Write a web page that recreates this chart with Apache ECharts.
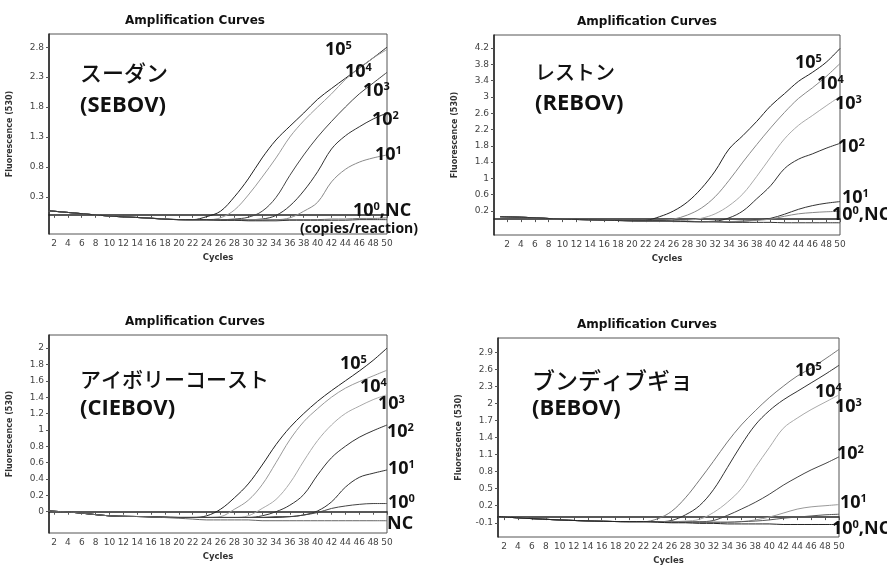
<!DOCTYPE html>
<html>
<head>
<meta charset="utf-8">
<script src="https://cdn.jsdelivr.net/npm/echarts@6/dist/echarts.min.js"></script>
<style>
  html, body { margin: 0; padding: 0; background: #fff; }
  #chart { width: 887px; height: 571px; }
</style>
</head>
<body>
<div id="chart"></div>
<script>
// shared cycle grid the curves were read at
const cycles = [1, 5, 10, 15, 20, 22, 24, 26, 28, 30, 32, 34, 36, 38, 40, 42, 44, 46, 48, 50]
const xTicks = [2, 4, 6, 8, 10, 12, 14, 16, 18, 20, 22, 24, 26, 28, 30, 32, 34, 36, 38, 40, 42, 44, 46, 48, 50]

// order: 10^5, 10^4, 10^3, 10^2, 10^1, 10^0, NC
const sebov = [
  [0.07, 0.03, -0.02, -0.05, -0.08, -0.08, -0.03, 0.06, 0.3, 0.6, 0.95, 1.25, 1.48, 1.7, 1.93, 2.11, 2.28, 2.45, 2.62, 2.8],
  [0.07, 0.03, -0.02, -0.05, -0.08, -0.08, -0.08, -0.05, 0.08, 0.33, 0.63, 0.95, 1.3, 1.57, 1.8, 2.02, 2.26, 2.45, 2.62, 2.76],
  [0.07, 0.03, -0.02, -0.05, -0.08, -0.08, -0.08, -0.08, -0.07, -0.04, 0.06, 0.29, 0.66, 1.0, 1.3, 1.56, 1.8, 2.02, 2.2, 2.38],
  [0.07, 0.03, -0.02, -0.05, -0.08, -0.09, -0.09, -0.09, -0.08, -0.08, -0.07, -0.01, 0.15, 0.4, 0.72, 1.1, 1.32, 1.47, 1.6, 1.7],
  [0.07, 0.03, -0.02, -0.05, -0.08, -0.09, -0.09, -0.09, -0.09, -0.08, -0.08, -0.08, -0.05, 0.06, 0.21, 0.55, 0.76, 0.88, 0.95, 1.0],
  [0.07, 0.03, -0.02, -0.05, -0.08, -0.08, -0.08, -0.09, -0.09, -0.09, -0.09, -0.08, -0.08, -0.08, -0.08, -0.07, -0.07, -0.06, -0.06, -0.05],
  [0.07, 0.03, -0.02, -0.05, -0.08, -0.08, -0.08, -0.09, -0.09, -0.1, -0.1, -0.1, -0.09, -0.09, -0.09, -0.09, -0.09, -0.08, -0.08, -0.08]
]
const rebov = [
  [0.06, 0.04, 0.0, -0.02, -0.04, -0.03, 0.06, 0.2, 0.42, 0.75, 1.18, 1.72, 2.05, 2.4, 2.78, 3.08, 3.38, 3.6, 3.85, 4.19],
  [0.06, 0.04, 0.0, -0.02, -0.04, -0.03, -0.03, 0.0, 0.1, 0.27, 0.55, 0.95, 1.4, 1.83, 2.24, 2.62, 2.96, 3.22, 3.5, 3.82],
  [0.06, 0.04, 0.0, -0.02, -0.04, -0.04, -0.04, -0.04, -0.03, 0.02, 0.13, 0.33, 0.62, 1.05, 1.52, 1.97, 2.3, 2.54, 2.78, 3.01],
  [0.06, 0.04, 0.0, -0.02, -0.04, -0.05, -0.05, -0.05, -0.06, -0.06, -0.05, 0.03, 0.2, 0.5, 0.82, 1.24, 1.47, 1.6, 1.74, 1.86],
  [0.06, 0.04, 0.0, -0.02, -0.04, -0.05, -0.05, -0.06, -0.06, -0.06, -0.06, -0.06, -0.05, -0.02, 0.02, 0.12, 0.24, 0.33, 0.39, 0.43],
  [0.06, 0.04, 0.0, -0.02, -0.04, -0.05, -0.05, -0.06, -0.06, -0.06, -0.06, -0.06, -0.05, -0.03, 0.0, 0.07, 0.13, 0.16, 0.18, 0.19],
  [0.06, 0.04, 0.0, -0.02, -0.04, -0.04, -0.04, -0.05, -0.06, -0.07, -0.07, -0.08, -0.08, -0.08, -0.08, -0.09, -0.09, -0.09, -0.09, -0.09]
]
const ciebov = [
  [0.01, -0.01, -0.05, -0.06, -0.07, -0.07, -0.05, 0.03, 0.17, 0.34, 0.57, 0.82, 1.03, 1.2, 1.35, 1.48, 1.6, 1.72, 1.85, 2.0],
  [0.01, -0.01, -0.05, -0.06, -0.07, -0.07, -0.07, -0.06, 0.03, 0.14, 0.33, 0.6, 0.88, 1.1, 1.26, 1.4, 1.51, 1.59, 1.66, 1.73],
  [0.01, -0.01, -0.05, -0.06, -0.07, -0.07, -0.07, -0.07, -0.07, -0.05, 0.04, 0.15, 0.35, 0.62, 0.87, 1.06, 1.2, 1.29, 1.37, 1.43],
  [0.01, -0.01, -0.05, -0.06, -0.07, -0.07, -0.07, -0.07, -0.07, -0.07, -0.05, 0.0, 0.08, 0.21, 0.45, 0.66, 0.8, 0.91, 0.99, 1.06],
  [0.01, -0.01, -0.05, -0.06, -0.07, -0.07, -0.07, -0.07, -0.07, -0.07, -0.07, -0.07, -0.06, -0.04, 0.01, 0.12, 0.3, 0.42, 0.47, 0.51],
  [0.01, -0.01, -0.05, -0.06, -0.07, -0.07, -0.07, -0.07, -0.07, -0.07, -0.07, -0.06, -0.06, -0.04, -0.01, 0.04, 0.07, 0.09, 0.1, 0.1],
  [0.01, -0.01, -0.05, -0.06, -0.08, -0.09, -0.1, -0.1, -0.1, -0.1, -0.11, -0.11, -0.11, -0.11, -0.11, -0.11, -0.11, -0.11, -0.11, -0.11]
]
const bebov = [
  [0.01, -0.02, -0.05, -0.07, -0.08, -0.08, -0.03, 0.1, 0.34, 0.65, 0.98, 1.32, 1.62, 1.87, 2.1, 2.3, 2.48, 2.62, 2.78, 2.95],
  [0.01, -0.02, -0.05, -0.07, -0.08, -0.08, -0.08, -0.06, 0.04, 0.2, 0.48, 0.87, 1.27, 1.62, 1.87, 2.06, 2.21, 2.36, 2.51, 2.67],
  [0.01, -0.02, -0.05, -0.07, -0.08, -0.08, -0.08, -0.08, -0.07, -0.04, 0.08, 0.26, 0.5, 0.87, 1.22, 1.56, 1.74, 1.89, 2.02, 2.15],
  [0.01, -0.02, -0.05, -0.07, -0.08, -0.08, -0.08, -0.08, -0.08, -0.08, -0.06, 0.03, 0.14, 0.26, 0.4, 0.56, 0.7, 0.83, 0.94, 1.06],
  [0.01, -0.02, -0.05, -0.07, -0.08, -0.08, -0.08, -0.08, -0.08, -0.09, -0.09, -0.09, -0.08, -0.05, 0.0, 0.07, 0.14, 0.18, 0.2, 0.22],
  [0.01, -0.02, -0.05, -0.07, -0.08, -0.08, -0.08, -0.09, -0.09, -0.09, -0.09, -0.09, -0.08, -0.07, -0.05, -0.02, 0.0, 0.02, 0.04, 0.05],
  [0.01, -0.02, -0.05, -0.07, -0.08, -0.08, -0.09, -0.1, -0.1, -0.11, -0.11, -0.12, -0.12, -0.12, -0.12, -0.13, -0.13, -0.13, -0.13, -0.13]
]

const sebovTicks = [0.3, 0.8, 1.3, 1.8, 2.3, 2.8]
const rebovTicks = [0.2, 0.6, 1, 1.4, 1.8, 2.2, 2.6, 3, 3.4, 3.8, 4.2]
const ciebovTicks = [0, 0.2, 0.4, 0.6, 0.8, 1, 1.2, 1.4, 1.6, 1.8, 2]
const bebovTicks = [-0.1, 0.2, 0.5, 0.8, 1.1, 1.4, 1.7, 2, 2.3, 2.6, 2.9]

const doseNames = ['10^5', '10^4', '10^3', '10^2', '10^1', '10^0', 'NC']

const panels = [
  {
    data: sebov, ticks: sebovTicks, yMin: -0.32, yMax: 3.02, xMin: 1.28, xMax: 50,
    grid: { left: 49, top: 34, width: 338, height: 200 },
    colors: ['#222', '#9a9a9a', '#444', '#333', '#8a8a8a', '#777', '#333']
  },
  {
    data: rebov, ticks: rebovTicks, yMin: -0.39, yMax: 4.52, xMin: 0.12, xMax: 50,
    grid: { left: 494, top: 35, width: 346, height: 200 },
    colors: ['#222', '#8a8a8a', '#aaa', '#333', '#333', '#888', '#333']
  },
  {
    data: ciebov, ticks: ciebovTicks, yMin: -0.26, yMax: 2.16, xMin: 1.28, xMax: 50,
    grid: { left: 49, top: 335, width: 338, height: 198 },
    colors: ['#222', '#999', '#aaa', '#333', '#333', '#444', '#666']
  },
  {
    data: bebov, ticks: bebovTicks, yMin: -0.35, yMax: 3.15, xMin: 1.14, xMax: 50,
    grid: { left: 498, top: 338, width: 341, height: 199 },
    colors: ['#777', '#333', '#aaa', '#444', '#999', '#555', '#222']
  }
]

const axisFont = { fontFamily: 'DejaVu Sans', fontSize: 9, color: '#444' }

const grids = []
const xAxes = []
const yAxes = []
const series = []

panels.forEach(function (p, i) {
  grids.push(Object.assign({
    show: true,
    borderColor: '#555',
    borderWidth: 1,
    backgroundColor: '#fff',
    containLabel: false,
    outerBoundsMode: 'none'
  }, p.grid))
  xAxes.push({
    type: 'value',
    gridIndex: i,
    min: p.xMin,
    max: p.xMax,
    name: 'Cycles',
    nameLocation: 'middle',
    nameGap: 19,
    nameTextStyle: { fontFamily: 'DejaVu Sans', fontSize: 8.5, fontWeight: 'bold', color: '#333' },
    axisLine: { show: true, lineStyle: { color: '#222', width: 1.5 } },
    axisTick: { show: true, length: 3, customValues: xTicks, lineStyle: { color: '#555' } },
    axisLabel: Object.assign({ customValues: xTicks, margin: 5 }, axisFont),
    splitLine: { show: false }
  })
  yAxes.push({
    type: 'value',
    gridIndex: i,
    min: p.yMin,
    max: p.yMax,
    name: 'Fluorescence (530)',
    nameLocation: 'middle',
    nameGap: 35,
    nameTextStyle: { fontFamily: 'DejaVu Sans', fontSize: 8, fontWeight: 'bold', color: '#333' },
    axisLine: { show: true, lineStyle: { color: '#222', width: 1.5 } },
    axisTick: { show: true, length: 3, customValues: p.ticks, lineStyle: { color: '#555' } },
    axisLabel: Object.assign({ customValues: p.ticks, margin: 5 }, axisFont),
    splitLine: { show: false }
  })
  p.data.forEach(function (vals, k) {
    series.push({
      name: doseNames[k],
      type: 'line',
      xAxisIndex: i,
      yAxisIndex: i,
      showSymbol: false,
      smooth: 0.35,
      lineStyle: { width: 1, color: p.colors[k] },
      data: cycles.map(function (c, j) { return [c, vals[j]] }),
      z: 2
    })
  })
})

function txt(x, y, text, font, extra) {
  return {
    type: 'text',
    z: 100,
    style: Object.assign({
      x: x, y: y, text: text, font: font, fill: '#111',
      textAlign: 'left', align: 'left',
      textVerticalAlign: 'middle', verticalAlign: 'middle'
    }, extra || {})
  }
}

const doseRich = {
  a: { fontFamily: 'Open Sans', fontSize: 18, fontWeight: 'bold', color: '#111', lineHeight: 20 },
  s: { fontFamily: 'Open Sans', fontSize: 11, fontWeight: 'bold', color: '#111', verticalAlign: 'top', lineHeight: 20, padding: [0, 0, 6, 0] }
}
function dose(x, y, power, tail) {
  const text = power === null ? '{a|' + tail + '}' : '{a|10}{s|' + power + '}' + (tail ? '{a|' + tail + '}' : '')
  return txt(x, y, text, '', { rich: doseRich })
}

const titleFont = 'bold 12px "DejaVu Sans"'
const kanaFont = function (size) { return '500 ' + size + 'px "Noto Sans CJK JP"' }
const codeFont = 'bold 22px "Open Sans"'

const graphics = [
  txt(195, 21, 'Amplification Curves', titleFont, { textAlign: 'center', align: 'center' }),
  txt(647, 22, 'Amplification Curves', titleFont, { textAlign: 'center', align: 'center' }),
  txt(195, 322, 'Amplification Curves', titleFont, { textAlign: 'center', align: 'center' }),
  txt(647, 325, 'Amplification Curves', titleFont, { textAlign: 'center', align: 'center' }),

  txt(80, 73, 'スーダン', kanaFont(22)),
  txt(80, 106, '(SEBOV)', codeFont),
  txt(535, 72, 'レストン', kanaFont(20)),
  txt(535, 104, '(REBOV)', codeFont),
  txt(80, 379, 'アイボリーコースト', kanaFont(21)),
  txt(80, 409, '(CIEBOV)', codeFont),
  txt(532, 380, 'ブンディブギョ', kanaFont(23)),
  txt(532, 409, '(BEBOV)', codeFont),

  dose(325, 50, 5), dose(345, 72, 4), dose(363, 91, 3), dose(372, 120, 2), dose(375, 155, 1),
  dose(353, 211, 0, ',NC'),
  txt(300, 229, '(copies/reaction)', 'bold 14px "Open Sans"'),

  dose(795, 63, 5), dose(817, 84, 4), dose(835, 104, 3), dose(838, 147, 2), dose(842, 198, 1),
  dose(832, 215, 0, ',NC'),

  dose(340, 364, 5), dose(360, 387, 4), dose(378, 404, 3), dose(387, 432, 2), dose(388, 469, 1),
  dose(388, 503, 0), dose(387, 524, null, 'NC'),

  dose(795, 371, 5), dose(815, 392, 4), dose(835, 407, 3), dose(837, 454, 2), dose(840, 503, 1),
  dose(832, 529, 0, ',NC')
]

const chart = echarts.init(document.getElementById('chart'), null, { renderer: 'canvas' })
chart.setOption({
  backgroundColor: '#fff',
  animation: false,
  grid: grids,
  xAxis: xAxes,
  yAxis: yAxes,
  series: series,
  graphic: graphics
})
</script>
</body>
</html>
